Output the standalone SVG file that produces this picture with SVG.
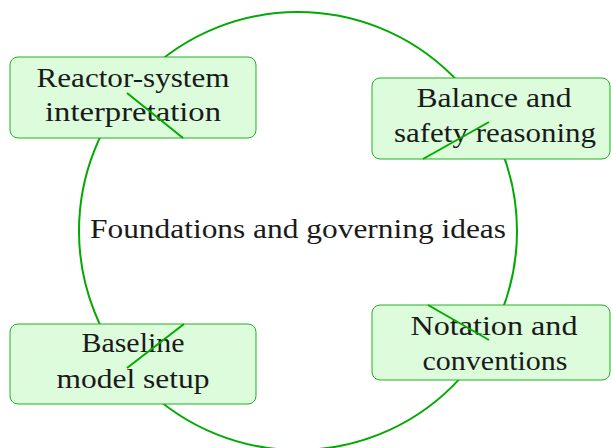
<svg xmlns="http://www.w3.org/2000/svg" width="611" height="448" viewBox="0 0 611 448">
<style>
.ring{fill:none;stroke:#00aa00;stroke-width:2}
.box{fill:#dcfcdc;stroke:#22b022;stroke-width:1}
.tick{stroke:#00aa00;stroke-width:2;fill:none}
.t{font-family:'Liberation Serif','Times New Roman',serif;font-size:27px;fill:#1a1a1a;text-anchor:middle}
</style>
<rect width="611" height="448" fill="#ffffff"/>
<g id="center">
<circle class="ring" cx="298" cy="231" r="219"/>
<text class="t" x="298" y="238" textLength="416" lengthAdjust="spacingAndGlyphs">Foundations and governing ideas</text>
</g>
<g id="node-reactor">
<rect class="box" x="10" y="57" width="246" height="81" rx="8"/>
<text class="t" x="133" y="87" textLength="193" lengthAdjust="spacingAndGlyphs">Reactor-system</text>
<text class="t" x="133" y="121" textLength="176" lengthAdjust="spacingAndGlyphs">interpretation</text>
</g>
<g id="node-balance">
<rect class="box" x="372" y="78" width="238" height="81" rx="8"/>
<text class="t" x="494" y="107" textLength="155" lengthAdjust="spacingAndGlyphs">Balance and</text>
<text class="t" x="495" y="142" textLength="202" lengthAdjust="spacingAndGlyphs">safety reasoning</text>
</g>
<g id="node-baseline">
<rect class="box" x="10" y="324" width="246" height="80" rx="8"/>
<text class="t" x="133" y="352" textLength="103" lengthAdjust="spacingAndGlyphs">Baseline</text>
<text class="t" x="133" y="388" textLength="153" lengthAdjust="spacingAndGlyphs">model setup</text>
</g>
<g id="node-notation">
<rect class="box" x="372" y="305" width="238" height="75" rx="8"/>
<text class="t" x="494" y="335" textLength="167" lengthAdjust="spacingAndGlyphs">Notation and</text>
<text class="t" x="495" y="370" textLength="145" lengthAdjust="spacingAndGlyphs">conventions</text>
</g>
<g id="connectors">
<line class="tick" x1="127" y1="93" x2="183" y2="138"/>
<line class="tick" x1="423" y1="159" x2="489" y2="122"/>
<line class="tick" x1="127" y1="368" x2="184" y2="324"/>
<line class="tick" x1="428" y1="305" x2="489" y2="340"/>
</g>
</svg>
